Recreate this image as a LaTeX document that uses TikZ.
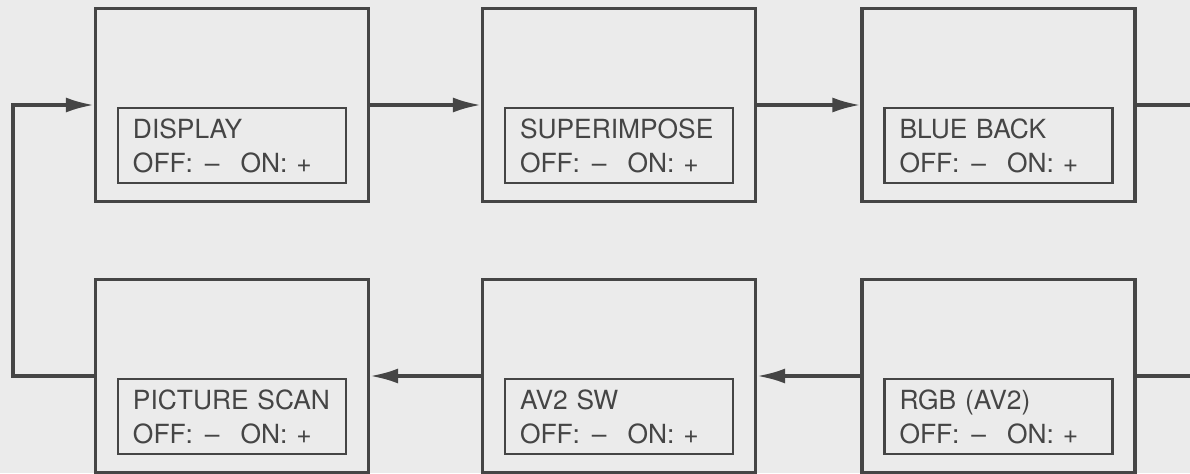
\documentclass[tikz,border=0pt]{standalone}
\usepackage{fontspec}
\setmainfont{TeX Gyre Heros}
\usepackage{xcolor}
\usetikzlibrary{arrows.meta}
\definecolor{ink}{HTML}{454545}
\definecolor{paper}{HTML}{EBEBEB}
\newcommand{\offon}{OFF:\hspace{0.45em}--\hspace{0.8em}ON: +}

\begin{document}
\begin{tikzpicture}[x=1cm,y=1cm,
  every node/.style={font=\fontsize{15}{19.4}\selectfont,text=ink},
  menubox/.style={draw=ink,line width=1.8pt,minimum width=5.46cm,minimum height=3.86cm,inner sep=0pt},
  itembox/.style={draw=ink,line width=1.2pt,minimum width=4.56cm,minimum height=1.5cm,text width=3.96cm,align=left,inner sep=0pt,anchor=north},
  link/.style={draw=ink,line width=1.9pt},
  go/.style={link,-{Latex[length=5.6mm,width=3mm]}}]
\useasboundingbox (0,0) rectangle (23.8,-9.46);
\fill[paper] (0,0) rectangle (23.8,-9.46);
% upper row
\node[menubox] (display) at (4.64,-2.10) {};
\node[itembox] (display-txt) at (4.64,-2.14) {DISPLAY\\\offon};
\node[menubox] (superimpose) at (12.38,-2.10) {};
\node[itembox] (superimpose-txt) at (12.38,-2.14) {SUPERIMPOSE\\\offon};
\node[menubox] (blueback) at (19.97,-2.10) {};
\node[itembox] (blueback-txt) at (19.97,-2.14) {BLUE BACK\\\offon};
% lower row
\node[menubox] (rgb) at (19.97,-7.52) {};
\node[itembox] (rgb-txt) at (19.97,-7.56) {RGB (AV2)\\\offon};
\node[menubox] (avsw) at (12.38,-7.52) {};
\node[itembox] (avsw-txt) at (12.38,-7.56) {AV2 SW\\\offon};
\node[menubox] (scan) at (4.64,-7.52) {};
\node[itembox] (scan-txt) at (4.64,-7.56) {PICTURE SCAN\\\offon};
% ends running off the page
\coordinate (top-out) at (23.8,-2.10);
\coordinate (bottom-out) at (23.8,-7.52);
% connectors
\draw[go] (display.east) -- (superimpose.west);
\draw[go] (superimpose.east) -- (blueback.west);
\draw[link] (blueback.east) -- (top-out);
\draw[link] (bottom-out) -- (rgb.east);
\draw[go] (rgb.west) -- (avsw.east);
\draw[go] (avsw.west) -- (scan.east);
\draw[go] (scan.west) -- ++(-1.62,0) |- (display.west);
\end{tikzpicture}
\end{document}
